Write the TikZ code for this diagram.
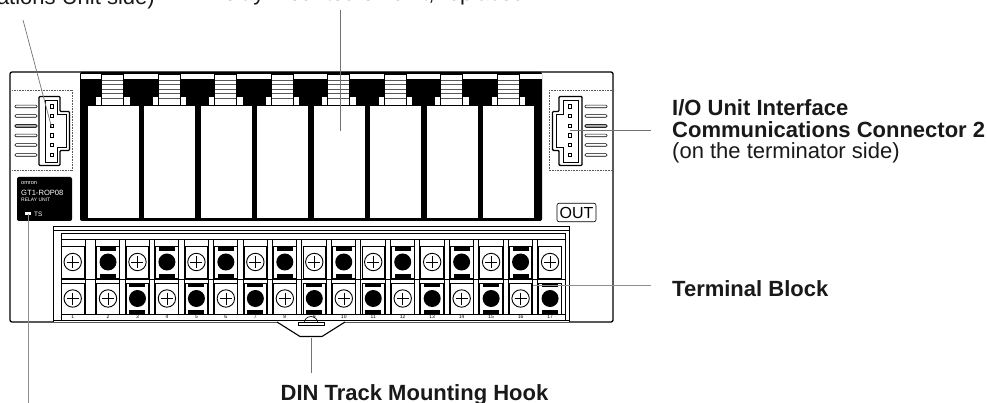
\documentclass[tikz,border=0pt]{standalone}
\usepackage{fontspec}
\setmainfont{Liberation Sans}
\definecolor{leader}{gray}{0.45}
\definecolor{dotline}{gray}{0.35}
\tikzset{
  x=1pt,y=-1pt,
  leaderline/.style={draw=leader,line width=0.7pt},
  heavyleader/.style={draw=leader!80,line width=1pt},
  label/.style={anchor=base west,inner sep=0pt,text=black!90,font=\fontsize{22}{26}\selectfont},
  boldlabel/.style={label,font=\fontsize{22}{26}\selectfont\bfseries},
  dotbox/.style={draw=dotline,line width=0.6pt,densely dotted},
  slot/.style={draw=black,line width=0.6pt,fill=white,rounded corners=1pt},
  pinbox/.style={draw=black,line width=0.6pt,fill=white},
  tiny/.style={inner sep=0pt,font=\fontsize{5}{6}\selectfont}
}
\newcommand{\connpins}[2]{%
  \foreach \py in {106.5,116,126,135.5,145,155}{
    \draw[pinbox] (#1-1.7,\py-1.7) rectangle (#1+1.7,\py+1.7);
    \draw[slot] (#2-11,\py-1.3) rectangle (#2+11,\py+1.3);
  }
  \draw[slot,fill=gray!60] (#2-11,124.7) rectangle (#2+11,127.3);
}
\newcommand{\screw}[2]{%
  \draw[line width=0.9pt,fill=white] (#1,#2) circle (8.7);
  \draw[line width=0.5pt] (#1-6,#2) -- (#1+6,#2) (#1,#2-6) -- (#1,#2+6);
}
\begin{document}
\begin{tikzpicture}
\useasboundingbox (0,0) rectangle (987,403);
\clip (0,0) rectangle (987,403);
% body
\draw[line width=1.3pt,rounded corners=2pt,fill=white] (10,72) rectangle (613,322);
% relay panel
\fill[black,rounded corners=2pt] (80,72) rectangle (542,221);
\fill[white] (81,74) rectangle (542,79);
\foreach \i in {0,...,7}{
  \pgfmathsetmacro{\rx}{87.5+56.5*\i}
  \pgfmathsetmacro{\cx}{101.7+56.5*\i}
  \fill[white] (\rx,106.5) rectangle (\rx+51,218);
  \draw[line width=0.6pt,fill=white] (\cx,74) rectangle (\cx+22,105);
  \foreach \sy in {80,84.5,89,93.5,98}{
    \draw[line width=0.5pt,draw=gray!70!black] (\cx,\sy) -- (\cx+22,\sy);
  }
  \draw[line width=1pt] (\cx,74) -- (\cx,105) (\cx+22,74) -- (\cx+22,105);
  \fill[white] (\cx-5.5,97.5) rectangle (\cx-0.6,105);
  \fill[white] (\cx+22.6,97.5) rectangle (\cx+28,105);
}
% left connector
\draw[dotbox] (72,90) -- (12,90) (12,170.5) -- (72,170.5) (72,90) -- (72,170.5);
\draw[line width=1.4pt,rounded corners=1pt,fill=white]
  (39,96.5) -- (60,96.5) -- (60,111.5) -- (69.5,111.5) -- (69.5,150.5) -- (60,150.5) -- (60,165.5) -- (39,165.5) -- cycle;
\draw[line width=0.7pt]
  (45,100) -- (57,100) -- (57,114.5) -- (66,114.5) -- (66,147.5) -- (57,147.5) -- (57,162.5) -- (45,162.5) -- cycle;
\connpins{51.7}{26}
% right connector
\draw[dotbox] (549,90) rectangle (612,170.5);
\draw[line width=1.4pt,rounded corners=1pt,fill=white]
  (582,96.5) -- (559,96.5) -- (559,111.5) -- (552.5,111.5) -- (552.5,150.5) -- (559,150.5) -- (559,165.5) -- (582,165.5) -- cycle;
\draw[line width=0.7pt]
  (578,100) -- (563,100) -- (563,114.5) -- (556,114.5) -- (556,147.5) -- (563,147.5) -- (563,162.5) -- (578,162.5) -- cycle;
\connpins{570}{596}
% brand plate
\fill[black,rounded corners=2pt] (17,177) rectangle (72,221);
\node[tiny,white,anchor=west,font=\fontsize{5.6}{6}\selectfont] (brand) at (21,183.5) {omron};
\node[tiny,white,anchor=west,font=\fontsize{7.6}{8}\selectfont] (model) at (21,192.5) {GT1-ROP08};
\node[tiny,white,anchor=west,font=\fontsize{5}{6}\selectfont] (kind) at (21,199.5) {RELAY UNIT};
\fill[white] (25,212) rectangle (31,215.5);
\node[tiny,white,anchor=west,font=\fontsize{6.4}{7}\selectfont] (ts) at (34,214) {TS};
% OUT
\node[draw,line width=0.6pt,rounded corners=2pt,minimum width=39,minimum height=18.5,inner sep=0pt,font=\fontsize{16}{18}\selectfont] (out) at (576.5,212.5) {OUT};
% terminal block
\draw[line width=1pt,fill=white] (53,322) -- (53,227) -- (569,227) -- (569,322);
\draw[line width=0.6pt] (53,230.5) -- (569,230.5) (61,233) -- (565,233) (61,233) -- (61,320) (565,233) -- (565,320) (53,320) -- (569,320);
\draw[line width=0.5pt] (61,239) -- (565,239) (61,279.5) -- (565,279.5) (61,314) -- (565,314);
\foreach \n in {1,...,17}{
  \ifnum\n=1 \def\cx{72.7}\else\pgfmathsetmacro{\cx}{108+29.47*(\n-2)}\fi
  \draw[line width=0.8pt,fill=white] (\cx-11.3,246.5) rectangle (\cx+11.3,278);
  \draw[line width=0.8pt,fill=white] (\cx-11.3,283) rectangle (\cx+11.3,314);
  \ifodd\n
    \screw{\cx}{262}
  \else
    \fill[black] (\cx-8,246.5) rectangle (\cx+8,251);
    \fill[black] (\cx-8,274) rectangle (\cx+8,278);
    \fill[black] (\cx,262) circle (8.5);
  \fi
  \ifnum\n=1 \screw{\cx}{298.5}\else
  \ifodd\n
    \fill[black] (\cx-8,283) rectangle (\cx+8,286.5);
    \fill[black] (\cx-8,310) rectangle (\cx+8,314);
    \fill[black] (\cx,298.5) circle (8.5);
  \else
    \screw{\cx}{298.5}
  \fi\fi
  \node[tiny] (num\n) at (\cx,317.2) {\n};
  \ifnum\n=2
    \draw[line width=0.6pt] (85,239) -- (85,314) (95.5,239) -- (95.5,314);
  \else\ifnum\n>2
    \draw[line width=0.6pt] (\cx-17.7,239) -- (\cx-17.7,314) (\cx-12.5,239) -- (\cx-12.5,314);
  \fi\fi
}
% hook
\draw[line width=1.1pt,fill=white] (277,322) -- (300,336.5) -- (322,336.5) -- (345,322);
\draw[line width=0.6pt] (311-7,323.5) arc[start angle=180,end angle=360,radius=7];
\draw[line width=0.6pt,fill=white] (298,322.5) rectangle (324,325);
% named ends of leaders
\coordinate (tl1) at (23,20);
\coordinate (tl2) at (51.5,127);
\coordinate (tm1) at (340,10);
\coordinate (tm2) at (340,131);
\coordinate (r1) at (570,130.5);
\coordinate (r2) at (651,130.5);
\coordinate (t1) at (533,285.5);
\coordinate (t2) at (651,285.5);
\coordinate (h1) at (311,338);
\coordinate (h2) at (311,373);
\coordinate (s1) at (28,214);
\coordinate (s2) at (28,403);
\draw[leaderline] (tl1) -- (tl2);
\draw[leaderline] (tm1) -- (tm2);
\draw[leaderline] (r1) -- (r2);
\draw[heavyleader] (t1) -- (t2);
\draw[leaderline] (h1) -- (h2);
\draw[heavyleader] (s1) -- (s2);
% labels
\node[label,anchor=base east] (ltop) at (155,5) {(on the Communications Unit side)};
\node[label,anchor=base west] (lrel) at (208,0.4) {Relay mounted on unit, replaced};
\node[boldlabel] (lio) at (672,115.5) {I/O Unit Interface};
\node[boldlabel] (lcomm) at (672,137.5) {Communications Connector 2};
\node[label] (lterm) at (672,159) {(on the terminator side)};
\node[boldlabel] (ltb) at (672,296) {Terminal Block};
\node[boldlabel,anchor=base] (ldin) at (414.5,400) {DIN Track Mounting Hook};
\end{tikzpicture}
\end{document}
